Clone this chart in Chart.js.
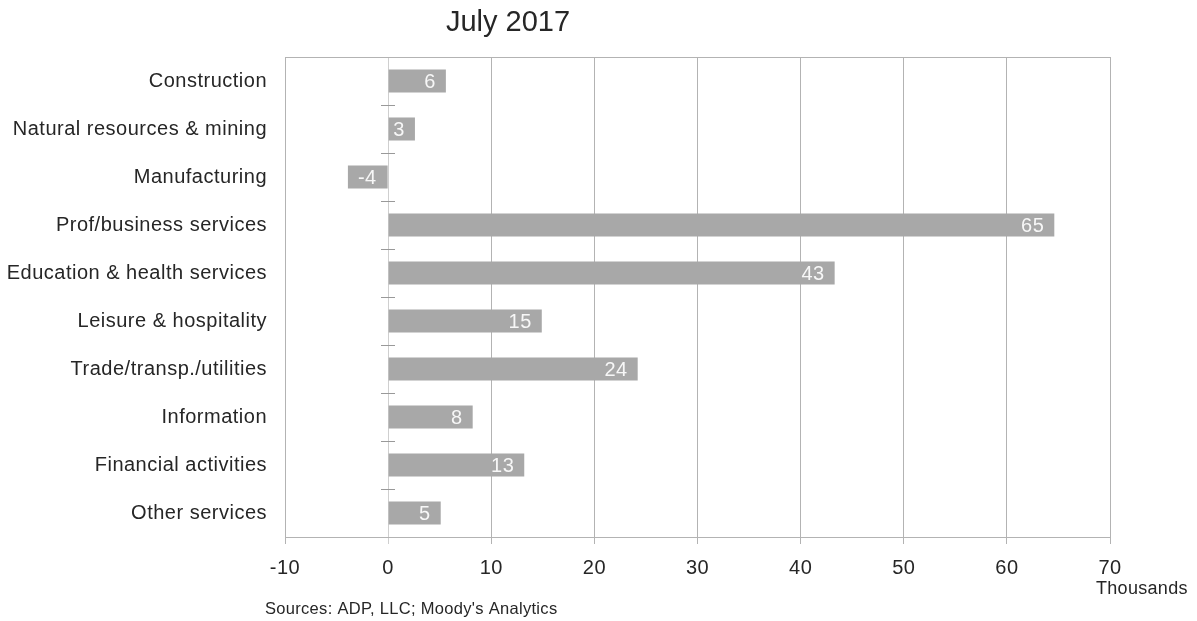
<!DOCTYPE html>
<html>
<head>
<meta charset="utf-8">
<script src="https://cdn.jsdelivr.net/npm/chart.js@4.4.1/dist/chart.umd.min.js"></script>
<style>
  html, body { margin: 0; padding: 0; background: #ffffff; }
  #wrap { width: 1197px; height: 621px; position: relative; }
</style>
</head>
<body>
<div id="wrap"><canvas id="c" width="1197" height="621"></canvas></div>
<script>
const categories = [
  "Construction",
  "Natural resources & mining",
  "Manufacturing",
  "Prof/business services",
  "Education & health services",
  "Leisure & hospitality",
  "Trade/transp./utilities",
  "Information",
  "Financial activities",
  "Other services"
];
const values = [5.6, 2.6, -3.9, 64.6, 43.3, 14.9, 24.2, 8.2, 13.2, 5.1];
const valueLabels = ["6", "3", "-4", "65", "43", "15", "24", "8", "13", "5"];
const xTicks = [-10, 0, 10, 20, 30, 40, 50, 60, 70];
const titleText = "July 2017";
const unitText = "Thousands";
const sourceText = "Sources: ADP, LLC; Moody's Analytics";

const FONT = "'Liberation Sans', Arial, sans-serif";
const GRID = "#b3b3b3";
const TEXT = "#262626";

const extras = {
  id: "extras",
  beforeDraw(chart) {
    if ("letterSpacing" in chart.ctx) chart.ctx.letterSpacing = "0.5px";
  },
  afterDraw(chart) {
    const ctx = chart.ctx;
    const a = chart.chartArea;
    const xs = chart.scales.x;
    ctx.save();
    ctx.strokeStyle = GRID;
    ctx.lineWidth = 1;
    ctx.beginPath();
    ctx.moveTo(a.left, Math.round(a.top) + 0.5);
    ctx.lineTo(a.right, Math.round(a.top) + 0.5);
    ctx.stroke();
    const x0 = Math.round(xs.getPixelForValue(0));
    ctx.strokeStyle = "#999999";
    const n = categories.length;
    const step = (a.bottom - a.top) / n;
    for (let i = 1; i < n; i++) {
      const y = Math.round(a.top + i * step) + 0.5;
      ctx.beginPath();
      ctx.moveTo(x0 - 7, y);
      ctx.lineTo(x0 + 7, y);
      ctx.stroke();
    }
    if ("letterSpacing" in ctx) ctx.letterSpacing = "0px";
    ctx.fillStyle = TEXT;
    ctx.font = "29px " + FONT;
    ctx.textAlign = "center";
    ctx.textBaseline = "middle";
    ctx.fillText(titleText, 508, 23);
    if ("letterSpacing" in ctx) ctx.letterSpacing = "0.3px";
    ctx.font = "18px " + FONT;
    ctx.textAlign = "left";
    ctx.fillText(unitText, 1096, 589);
    ctx.font = "16.5px " + FONT;
    ctx.fillText(sourceText, 265, 609);
    ctx.restore();
  },
  afterDatasetsDraw(chart) {
    const ctx = chart.ctx;
    const meta = chart.getDatasetMeta(0);
    ctx.save();
    ctx.fillStyle = "#f7f7f7";
    ctx.font = "20px " + FONT;
    ctx.textBaseline = "middle";
    meta.data.forEach((bar, i) => {
      const v = values[i];
      if (v >= 0) {
        ctx.textAlign = "right";
        ctx.fillText(valueLabels[i], bar.x - 10, bar.y + 1);
      } else {
        ctx.textAlign = "left";
        ctx.fillText(valueLabels[i], bar.x + 10, bar.y + 1);
      }
    });
    ctx.restore();
  }
};

new Chart(document.getElementById("c"), {
  type: "bar",
  data: {
    labels: categories,
    datasets: [{
      data: values,
      backgroundColor: "#a8a8a8",
      borderWidth: 0,
      barPercentage: 0.48,
      categoryPercentage: 1.0
    }]
  },
  options: {
    indexAxis: "y",
    responsive: false,
    animation: false,
    devicePixelRatio: 1,
    layout: { padding: { left: 0, right: 87, top: 57, bottom: 0 } },
    plugins: {
      legend: { display: false },
      tooltip: { enabled: false },
      title: { display: false }
    },
    scales: {
      x: {
        type: "linear",
        min: xTicks[0],
        max: xTicks[xTicks.length - 1],
        afterBuildTicks: (s) => { s.ticks = xTicks.map(v => ({ value: v })); },
        afterFit: (s) => { s.height = 84; },
        grid: {
          color: (c) => (c.tick && c.tick.value === 0) ? "#cfcfcf" : GRID,
          lineWidth: 1,
          tickLength: 7,
          drawTicks: true
        },
        border: { display: true, color: GRID },
        ticks: {
          color: TEXT,
          font: { family: FONT, size: 20 },
          padding: 12,
          maxRotation: 0
        }
      },
      y: {
        type: "category",
        afterFit: (s) => { s.width = 285; },
        grid: { display: false, drawTicks: false },
        border: { display: true, color: GRID },
        ticks: {
          color: TEXT,
          font: { family: FONT, size: 20 },
          padding: 18,
          autoSkip: false
        }
      }
    }
  },
  plugins: [extras]
});
</script>
</body>
</html>
